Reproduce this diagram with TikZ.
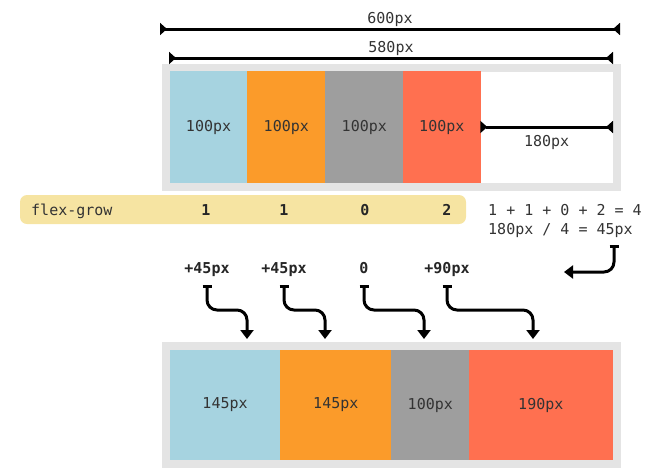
\documentclass[tikz,border=0pt]{standalone}
\usepackage{fontspec}
\setmonofont{DejaVu Sans Mono}
\usepackage{xcolor}
\usetikzlibrary{arrows.meta, positioning}

\definecolor{azul}{HTML}{A6D3E0}
\definecolor{laranja}{HTML}{FB9B2A}
\definecolor{cinza}{HTML}{9E9E9E}
\definecolor{vermelho}{HTML}{FF7050}
\definecolor{borda}{HTML}{E4E4E4}
\definecolor{amarelo}{HTML}{F6E4A2}
\definecolor{texto}{HTML}{333333}

\begin{document}
\begin{tikzpicture}[
    x=1pt, y=-1pt,
    font=\ttfamily\fontsize{15}{19}\selectfont,
    moldura/.style={
        rectangle,
        draw=borda,
        line width=8pt,
        fill=white,
        inner sep=0pt
    },
    bloco/.style={
        rectangle,
        inner sep=0pt,
        outer sep=0pt,
        line width=0.6pt,
        text=texto
    },
    faixa/.style={
        rectangle,
        rounded corners=7pt,
        fill=amarelo,
        inner sep=0pt
    },
    rotulo/.style={inner sep=0pt, text=texto},
    forte/.style={font=\ttfamily\fontsize{15}{19}\selectfont\bfseries, text=black!85},
    cota/.style={
        {Triangle[reversed,width=12pt,length=7pt]}-{Triangle[reversed,width=12pt,length=7pt]},
        line width=3pt
    },
    seta/.style={
        {Bar[width=9pt]}-{Triangle[width=13pt,length=9pt]},
        line width=3pt,
        rounded corners=10pt
    }
]
\useasboundingbox (0,0) rectangle (663,475);

% antes
\node[moldura, minimum width=451.5pt, minimum height=119pt] (m1) at (391.25,127) {};
\node[bloco, fill=azul, draw=azul, minimum width=77.5pt, minimum height=110.5pt, anchor=west] (a1) at (169.8,127) {100px};
\node[bloco, fill=laranja, draw=laranja, minimum width=78pt, minimum height=110.5pt, right=0pt of a1] (a2) {100px};
\node[bloco, fill=cinza, draw=cinza, minimum width=78pt, minimum height=110.5pt, right=0pt of a2] (a3) {100px};
\node[bloco, fill=vermelho, draw=vermelho, minimum width=77pt, minimum height=110.5pt, right=0pt of a3] (a4) {100px};

\coordinate (l600) at (160,29);
\coordinate (r600) at (620,29);
\coordinate (l580) at (169,58);
\coordinate (r580) at (613,58);
\coordinate (r180) at (613,127);

\draw[cota] (l600) -- node[rotulo, above=1pt] {600px} (r600);
\draw[cota] (l580) -- node[rotulo, above=1pt] {580px} (r580);
\draw[cota] (a4.east) -- node[rotulo, below=7pt] {180px} (r180);

% flex-grow
\node[faixa, minimum width=446pt, minimum height=29pt] (fg) at (243,209.5) {};
\node[rotulo, anchor=base west] (fgnome) at (31,215) {flex-grow};
\node[rotulo, forte, anchor=base] (v1) at (206,215) {1};
\node[rotulo, forte, anchor=base] (v2) at (284,215) {1};
\node[rotulo, forte, anchor=base] (v3) at (365,215) {0};
\node[rotulo, forte, anchor=base] (v4) at (447,215) {2};

\node[rotulo, anchor=base west] (soma) at (488,215) {1 + 1 + 0 + 2 = 4};
\node[rotulo, anchor=base west] (divisao) at ([yshift=-19pt]soma.base west) {180px / 4 = 45px};

\coordinate (q1) at (614,245);
\coordinate (q2) at (564,272);
\draw[seta] (q1) |- (q2);

% acrescimos
\node[rotulo, forte, anchor=base] (g1) at (207,273) {+45px};
\node[rotulo, forte, anchor=base] (g2) at (284,273) {+45px};
\node[rotulo, forte, anchor=base] (g3) at (364,273) {0};
\node[rotulo, forte, anchor=base] (g4) at (447,273) {+90px};

\coordinate (s1) at ([yshift=-12pt]g1.base);
\coordinate (s2) at ([yshift=-12pt]g2.base);
\coordinate (s3) at ([yshift=-12pt]g3.base);
\coordinate (s4) at ([yshift=-12pt]g4.base);
\coordinate (e1) at (247,339);
\coordinate (e2) at (325,339);
\coordinate (e3) at (424,339);
\coordinate (e4) at (533,339);

\draw[seta] (s1) -- ++(0,25) -| (e1);
\draw[seta] (s2) -- ++(0,25) -| (e2);
\draw[seta] (s3) -- ++(0,25) -| (e3);
\draw[seta] (s4) -- ++(0,25) -| (e4);

% depois
\node[moldura, minimum width=451.5pt, minimum height=118pt] (m2) at (391.25,405) {};
\node[bloco, fill=azul, draw=azul, minimum width=110.5pt, minimum height=109.5pt, anchor=west] (b1) at (169.8,405) {145px};
\node[bloco, fill=laranja, draw=laranja, minimum width=111pt, minimum height=109.5pt, right=0pt of b1] (b2) {145px};
\node[bloco, fill=cinza, draw=cinza, minimum width=78pt, minimum height=109.5pt, right=0pt of b2] (b3) {100px};
\node[bloco, fill=vermelho, draw=vermelho, minimum width=143pt, minimum height=109.5pt, right=0pt of b3] (b4) {190px};

\end{tikzpicture}
\end{document}
